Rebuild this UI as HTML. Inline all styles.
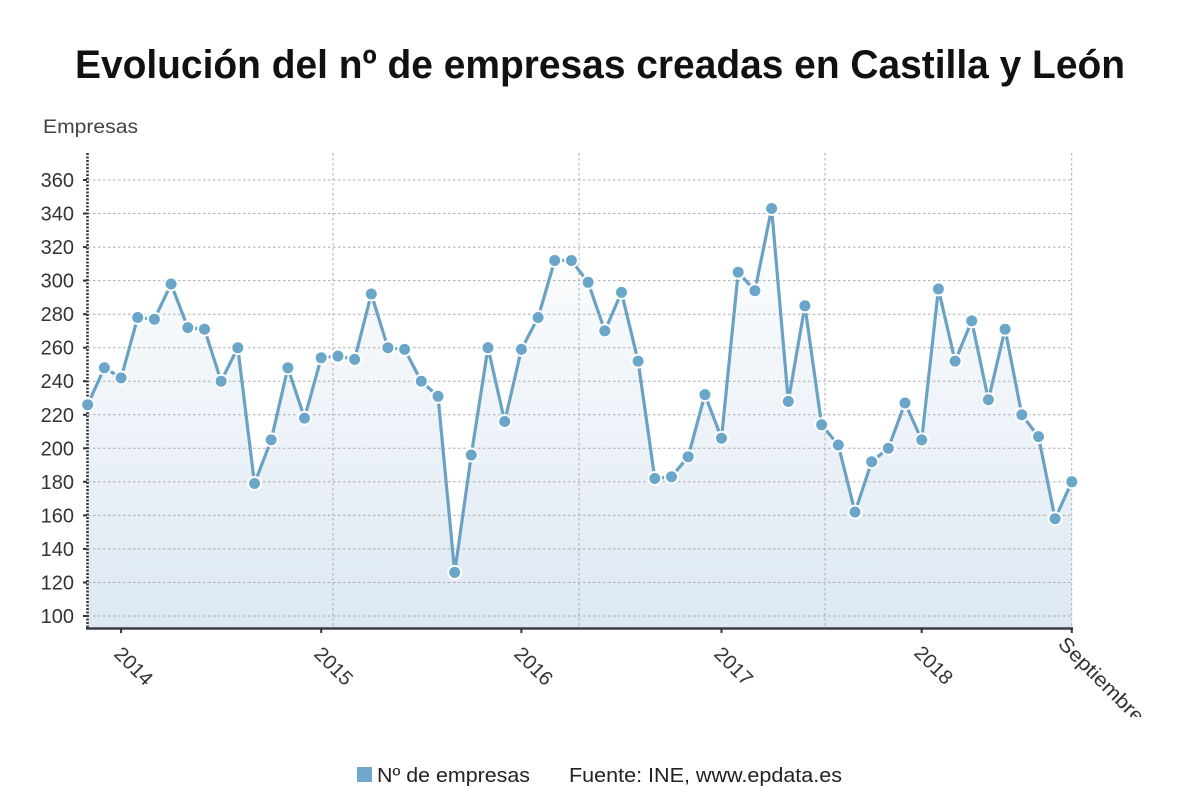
<!DOCTYPE html>
<html><head><meta charset="utf-8"><style>
html,body{margin:0;padding:0;background:#fff;}
svg{display:block;}
text{font-family:"Liberation Sans",sans-serif;}
</style></head><body>
<svg width="1200" height="808" viewBox="0 0 1200 808" xmlns="http://www.w3.org/2000/svg">
<defs>
<linearGradient id="ag" x1="0" y1="200" x2="0" y2="628" gradientUnits="userSpaceOnUse">
<stop offset="0" stop-color="#ffffff"/>
<stop offset="1" stop-color="#dde8f2"/>
</linearGradient>
<clipPath id="cl"><rect x="0" y="0" width="1200" height="717"/></clipPath>
</defs>
<rect width="1200" height="808" fill="#fff"/>
<text x="600" y="78" text-anchor="middle" font-size="40" font-weight="bold" fill="#111" textLength="1050" lengthAdjust="spacingAndGlyphs">Evolución del nº de empresas creadas en Castilla y León</text>
<text x="43" y="133" font-size="19" fill="#444" textLength="95" lengthAdjust="spacingAndGlyphs">Empresas</text>

<polygon fill="url(#ag)" points="87.7,628 87.7,404.7 104.4,367.8 121.1,377.9 137.7,317.5 154.4,319.2 171.1,284.0 187.8,327.6 204.5,329.2 221.1,381.2 237.8,347.7 254.5,483.5 271.2,439.9 287.9,367.8 304.5,418.1 321.2,357.8 337.9,356.1 354.6,359.4 371.3,294.0 387.9,347.7 404.6,349.4 421.3,381.2 438.0,396.3 454.7,572.4 471.3,455.0 488.0,347.7 504.7,421.5 521.4,349.4 538.1,317.5 554.7,260.5 571.4,260.5 588.1,282.3 604.8,330.9 621.5,292.4 638.1,361.1 654.8,478.5 671.5,476.8 688.2,456.7 704.9,394.6 721.5,438.2 738.2,272.2 754.9,290.7 771.6,208.5 788.3,401.4 804.9,305.8 821.6,424.8 838.3,445.0 855.0,512.0 871.7,461.7 888.3,448.3 905.0,403.0 921.7,439.9 938.4,289.0 955.1,361.1 971.7,320.9 988.4,399.7 1005.1,329.2 1021.8,414.8 1038.5,436.6 1055.1,518.7 1071.8,481.8 1071.8,628"/>

<g stroke="#a9acb0" stroke-width="1" stroke-dasharray="2.5,2.5" fill="none">
<line x1="88" y1="616" x2="1072" y2="616"/>
<line x1="88" y1="582.5" x2="1072" y2="582.5"/>
<line x1="88" y1="548.9" x2="1072" y2="548.9"/>
<line x1="88" y1="515.4" x2="1072" y2="515.4"/>
<line x1="88" y1="481.8" x2="1072" y2="481.8"/>
<line x1="88" y1="448.3" x2="1072" y2="448.3"/>
<line x1="88" y1="414.8" x2="1072" y2="414.8"/>
<line x1="88" y1="381.2" x2="1072" y2="381.2"/>
<line x1="88" y1="347.7" x2="1072" y2="347.7"/>
<line x1="88" y1="314.2" x2="1072" y2="314.2"/>
<line x1="88" y1="280.6" x2="1072" y2="280.6"/>
<line x1="88" y1="247.1" x2="1072" y2="247.1"/>
<line x1="88" y1="213.5" x2="1072" y2="213.5"/>
<line x1="88" y1="180" x2="1072" y2="180"/>
<line x1="333" y1="153" x2="333" y2="628"/>
<line x1="579" y1="153" x2="579" y2="628"/>
<line x1="825" y1="153" x2="825" y2="628"/>
<line x1="1071.7" y1="153" x2="1071.7" y2="628"/>
</g>

<line x1="87.5" y1="153" x2="87.5" y2="628" stroke="#333" stroke-width="2.5" stroke-dasharray="2,1.5"/>
<line x1="86" y1="628.5" x2="1073" y2="628.5" stroke="#3a3f45" stroke-width="2.5"/>
<g stroke="#333" stroke-width="2">
<line x1="83" y1="616" x2="87" y2="616"/>
<line x1="83" y1="582.5" x2="87" y2="582.5"/>
<line x1="83" y1="548.9" x2="87" y2="548.9"/>
<line x1="83" y1="515.4" x2="87" y2="515.4"/>
<line x1="83" y1="481.8" x2="87" y2="481.8"/>
<line x1="83" y1="448.3" x2="87" y2="448.3"/>
<line x1="83" y1="414.8" x2="87" y2="414.8"/>
<line x1="83" y1="381.2" x2="87" y2="381.2"/>
<line x1="83" y1="347.7" x2="87" y2="347.7"/>
<line x1="83" y1="314.2" x2="87" y2="314.2"/>
<line x1="83" y1="280.6" x2="87" y2="280.6"/>
<line x1="83" y1="247.1" x2="87" y2="247.1"/>
<line x1="83" y1="213.5" x2="87" y2="213.5"/>
<line x1="83" y1="180" x2="87" y2="180"/>
<line x1="121.1" y1="628" x2="121.1" y2="633"/>
<line x1="321.2" y1="628" x2="321.2" y2="633"/>
<line x1="521.4" y1="628" x2="521.4" y2="633"/>
<line x1="721.5" y1="628" x2="721.5" y2="633"/>
<line x1="921.7" y1="628" x2="921.7" y2="633"/>
<line x1="1071.8" y1="628" x2="1071.8" y2="633"/>
</g>

<g font-size="20" fill="#333" text-anchor="end">
<text x="74" y="623">100</text>
<text x="74" y="589.5">120</text>
<text x="74" y="556">140</text>
<text x="74" y="522.4">160</text>
<text x="74" y="488.8">180</text>
<text x="74" y="455.3">200</text>
<text x="74" y="421.8">220</text>
<text x="74" y="388.2">240</text>
<text x="74" y="354.7">260</text>
<text x="74" y="321.2">280</text>
<text x="74" y="287.6">300</text>
<text x="74" y="254.1">320</text>
<text x="74" y="220.5">340</text>
<text x="74" y="187">360</text>
</g>

<g font-size="20" fill="#333" clip-path="url(#cl)">
<text transform="translate(113,655) rotate(45)" textLength="45" lengthAdjust="spacingAndGlyphs">2014</text>
<text transform="translate(313,655) rotate(45)" textLength="45" lengthAdjust="spacingAndGlyphs">2015</text>
<text transform="translate(513,655) rotate(45)" textLength="45" lengthAdjust="spacingAndGlyphs">2016</text>
<text transform="translate(713,655) rotate(45)" textLength="45" lengthAdjust="spacingAndGlyphs">2017</text>
<text transform="translate(913,654) rotate(45)" textLength="45" lengthAdjust="spacingAndGlyphs">2018</text>
<text transform="translate(1057,645) rotate(45)" textLength="112" lengthAdjust="spacingAndGlyphs">Septiembre</text>
</g>

<polyline fill="none" stroke="#6ba2c3" stroke-width="3.2" stroke-linejoin="round" points="87.7,404.7 104.4,367.8 121.1,377.9 137.7,317.5 154.4,319.2 171.1,284.0 187.8,327.6 204.5,329.2 221.1,381.2 237.8,347.7 254.5,483.5 271.2,439.9 287.9,367.8 304.5,418.1 321.2,357.8 337.9,356.1 354.6,359.4 371.3,294.0 387.9,347.7 404.6,349.4 421.3,381.2 438.0,396.3 454.7,572.4 471.3,455.0 488.0,347.7 504.7,421.5 521.4,349.4 538.1,317.5 554.7,260.5 571.4,260.5 588.1,282.3 604.8,330.9 621.5,292.4 638.1,361.1 654.8,478.5 671.5,476.8 688.2,456.7 704.9,394.6 721.5,438.2 738.2,272.2 754.9,290.7 771.6,208.5 788.3,401.4 804.9,305.8 821.6,424.8 838.3,445.0 855.0,512.0 871.7,461.7 888.3,448.3 905.0,403.0 921.7,439.9 938.4,289.0 955.1,361.1 971.7,320.9 988.4,399.7 1005.1,329.2 1021.8,414.8 1038.5,436.6 1055.1,518.7 1071.8,481.8"/>

<g fill="#6aa6ca" stroke="#fff" stroke-width="2">
<circle cx="87.7" cy="404.7" r="6.5"/><circle cx="104.4" cy="367.8" r="6.5"/><circle cx="121.1" cy="377.9" r="6.5"/><circle cx="137.7" cy="317.5" r="6.5"/><circle cx="154.4" cy="319.2" r="6.5"/><circle cx="171.1" cy="284.0" r="6.5"/><circle cx="187.8" cy="327.6" r="6.5"/><circle cx="204.5" cy="329.2" r="6.5"/><circle cx="221.1" cy="381.2" r="6.5"/><circle cx="237.8" cy="347.7" r="6.5"/>
<circle cx="254.5" cy="483.5" r="6.5"/><circle cx="271.2" cy="439.9" r="6.5"/><circle cx="287.9" cy="367.8" r="6.5"/><circle cx="304.5" cy="418.1" r="6.5"/><circle cx="321.2" cy="357.8" r="6.5"/><circle cx="337.9" cy="356.1" r="6.5"/><circle cx="354.6" cy="359.4" r="6.5"/><circle cx="371.3" cy="294.0" r="6.5"/><circle cx="387.9" cy="347.7" r="6.5"/><circle cx="404.6" cy="349.4" r="6.5"/>
<circle cx="421.3" cy="381.2" r="6.5"/><circle cx="438.0" cy="396.3" r="6.5"/><circle cx="454.7" cy="572.4" r="6.5"/><circle cx="471.3" cy="455.0" r="6.5"/><circle cx="488.0" cy="347.7" r="6.5"/><circle cx="504.7" cy="421.5" r="6.5"/><circle cx="521.4" cy="349.4" r="6.5"/><circle cx="538.1" cy="317.5" r="6.5"/><circle cx="554.7" cy="260.5" r="6.5"/><circle cx="571.4" cy="260.5" r="6.5"/>
<circle cx="588.1" cy="282.3" r="6.5"/><circle cx="604.8" cy="330.9" r="6.5"/><circle cx="621.5" cy="292.4" r="6.5"/><circle cx="638.1" cy="361.1" r="6.5"/><circle cx="654.8" cy="478.5" r="6.5"/><circle cx="671.5" cy="476.8" r="6.5"/><circle cx="688.2" cy="456.7" r="6.5"/><circle cx="704.9" cy="394.6" r="6.5"/><circle cx="721.5" cy="438.2" r="6.5"/><circle cx="738.2" cy="272.2" r="6.5"/>
<circle cx="754.9" cy="290.7" r="6.5"/><circle cx="771.6" cy="208.5" r="6.5"/><circle cx="788.3" cy="401.4" r="6.5"/><circle cx="804.9" cy="305.8" r="6.5"/><circle cx="821.6" cy="424.8" r="6.5"/><circle cx="838.3" cy="445.0" r="6.5"/><circle cx="855.0" cy="512.0" r="6.5"/><circle cx="871.7" cy="461.7" r="6.5"/><circle cx="888.3" cy="448.3" r="6.5"/><circle cx="905.0" cy="403.0" r="6.5"/>
<circle cx="921.7" cy="439.9" r="6.5"/><circle cx="938.4" cy="289.0" r="6.5"/><circle cx="955.1" cy="361.1" r="6.5"/><circle cx="971.7" cy="320.9" r="6.5"/><circle cx="988.4" cy="399.7" r="6.5"/><circle cx="1005.1" cy="329.2" r="6.5"/><circle cx="1021.8" cy="414.8" r="6.5"/><circle cx="1038.5" cy="436.6" r="6.5"/><circle cx="1055.1" cy="518.7" r="6.5"/><circle cx="1071.8" cy="481.8" r="6.5"/>
</g>

<rect x="357" y="767" width="15" height="15" fill="#6fa8cc"/>
<text x="377" y="782" font-size="20" fill="#222" textLength="153" lengthAdjust="spacingAndGlyphs">Nº de empresas</text>
<text x="569" y="782" font-size="20" fill="#222" textLength="273" lengthAdjust="spacingAndGlyphs">Fuente: INE, www.epdata.es</text>
</svg>
</body></html>
